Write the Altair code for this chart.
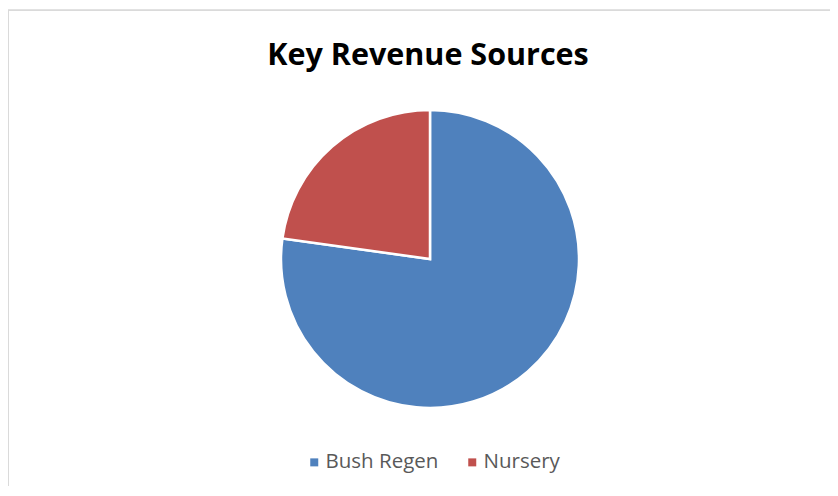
import altair as alt
import pandas as pd

categories = ["Bush Regen", "Nursery"]
values = [77.2, 22.8]
colors = ["#4F81BD", "#C0504D"]
order = [1, 2]

df = pd.DataFrame({"source": categories, "value": values, "order": order})

cx, cy = 422, 249

pie = alt.Chart(df).mark_arc(outerRadius=149, stroke="white", strokeWidth=2.5).encode(
    theta=alt.Theta("value:Q", stack=True),
    order=alt.Order("order:Q"),
    color=alt.Color(
        "source:N",
        scale=alt.Scale(domain=categories, range=colors),
        sort=categories,
        legend=alt.Legend(
            title=None,
            orient="none",
            direction="horizontal",
            legendX=296,
            legendY=442,
            symbolType="square",
            symbolSize=64,
            symbolStrokeWidth=0,
            labelFont="Open Sans",
            labelFontSize=20.5,
            labelColor="#595959",
            labelOffset=1,
            columnPadding=23,
        ),
    ),
    x=alt.value(cx),
    y=alt.value(cy),
)

title = alt.Chart(pd.DataFrame({"t": ["Key Revenue Sources"]})).mark_text(
    font="Open Sans", fontSize=30.5, fontWeight="bold", color="black",
    align="center", baseline="alphabetic"
).encode(text="t:N", x=alt.value(420), y=alt.value(55))

border = alt.Chart(pd.DataFrame({"k": [0]})).mark_rule(color="#d9d9d9", strokeWidth=1.5).encode(
    x=alt.value(0), x2=alt.value(822), y=alt.value(0)
)
border_left = alt.Chart(pd.DataFrame({"k": [0]})).mark_rule(color="#d9d9d9", strokeWidth=1.5).encode(
    x=alt.value(0), y=alt.value(0), y2=alt.value(476)
)

chart = alt.layer(border, border_left, pie, title).properties(
    width=822, height=476,
    padding={"left": 0, "top": 2, "right": 0, "bottom": 0},
    autosize=alt.AutoSizeParams(type="none"),
).configure_view(stroke=None).configure(background="white")

chart.save("out.html", embed_options={"renderer": "svg", "actions": False})
